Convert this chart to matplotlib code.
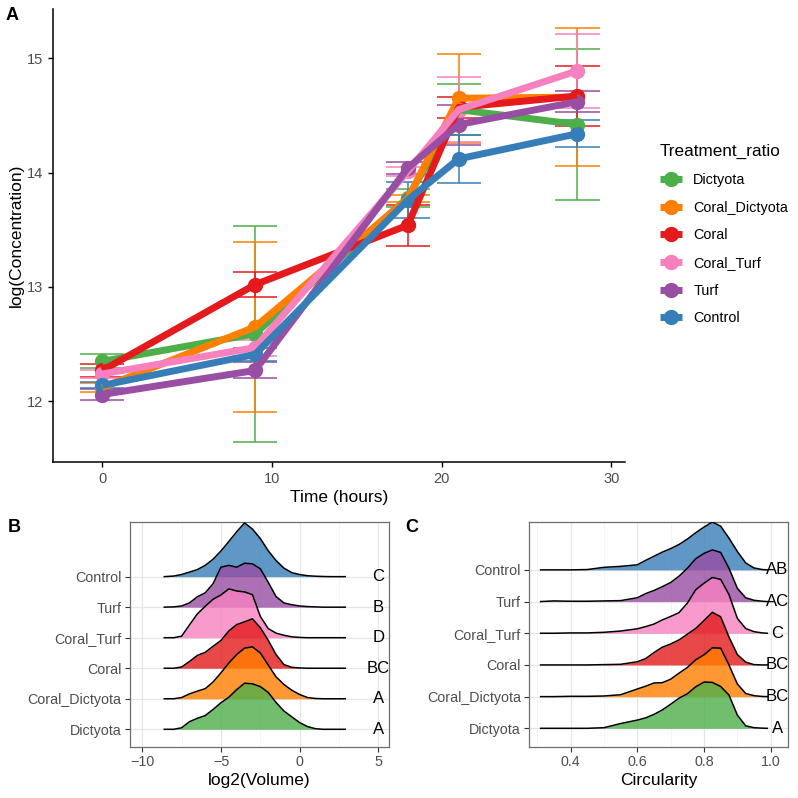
import matplotlib
matplotlib.use('Agg')

import numpy as np
import matplotlib.pyplot as plt
from matplotlib.lines import Line2D

plt.rcParams['font.family'] = ['Liberation Sans', 'DejaVu Sans']

# ---- panel A data: mean log concentration and standard error per time point
time_h = [0, 9, 18, 21, 28]
groups = ['Dictyota', 'Coral_Dictyota', 'Coral', 'Coral_Turf', 'Turf', 'Control']
colors = {'Dictyota': '#4DAF4A', 'Coral_Dictyota': '#FF7F00', 'Coral': '#E41A1C',
          'Coral_Turf': '#F781BF', 'Turf': '#984EA3', 'Control': '#377EB8'}

mean_dictyota = [12.35, 12.59, 13.78, 14.55, 14.42]
mean_coral_dictyota = [12.12, 12.65, 13.77, 14.65, 14.66]
mean_coral = [12.27, 13.02, 13.54, 14.57, 14.67]
mean_coral_turf = [12.24, 12.47, 14.01, 14.55, 14.89]
mean_turf = [12.06, 12.27, 14.04, 14.42, 14.62]
mean_control = [12.14, 12.41, 13.76, 14.12, 14.34]

se_dictyota = [0.06, 0.945, 0.08, 0.22, 0.66]
se_coral_dictyota = [0.04, 0.74, 0.03, 0.39, 0.60]
se_coral = [0.055, 0.11, 0.18, 0.095, 0.26]
se_coral_turf = [0.035, 0.07, 0.04, 0.285, 0.325]
se_turf = [0.045, 0.07, 0.05, 0.175, 0.09]
se_control = [0.025, 0.055, 0.16, 0.21, 0.12]

means = dict(zip(groups, [mean_dictyota, mean_coral_dictyota, mean_coral,
                          mean_coral_turf, mean_turf, mean_control]))
ses = dict(zip(groups, [se_dictyota, se_coral_dictyota, se_coral,
                        se_coral_turf, se_turf, se_control]))

# ---- panel B data: ridge heights (in row units) on a common log2(volume) grid
vol_x = [-8.6, -8, -7.5, -7, -6.5, -6, -5.5, -5, -4.5, -4, -3.5, -3, -2.5, -2,
         -1.5, -1, -0.5, 0, 0.5, 1, 1.5, 2, 2.9]
vol_control = [0, 0.02, 0.07, 0.15, 0.23, 0.37, 0.57, 0.84, 1.15, 1.47, 1.76, 1.56,
               1.25, 0.85, 0.53, 0.28, 0.13, 0.07, 0.03, 0.015, 0.005, 0, 0]
vol_turf = [0, 0.01, 0.04, 0.14, 0.34, 0.47, 0.77, 1.31, 1.37, 1.31, 1.44, 1.42,
            1.26, 0.82, 0.35, 0.14, 0.08, 0.04, 0.02, 0.01, 0, 0, 0]
vol_coral_turf = [0, 0, 0.05, 0.42, 0.78, 1.03, 1.26, 1.40, 1.60, 1.53, 1.50, 1.41,
                  0.70, 0.30, 0.15, 0.08, 0.03, 0.01, 0, 0, 0, 0, 0]
vol_coral = [0, 0, 0.04, 0.22, 0.42, 0.52, 0.72, 0.91, 1.22, 1.43, 1.52, 1.62,
             1.33, 0.92, 0.45, 0.12, 0.03, 0.01, 0, 0, 0, 0, 0]
vol_coral_dictyota = [0, 0, 0.04, 0.16, 0.25, 0.33, 0.55, 0.85, 1.17, 1.45, 1.66, 1.70,
                      1.50, 1.11, 0.72, 0.47, 0.28, 0.14, 0.04, 0.01, 0, 0, 0]
vol_dictyota = [0, 0, 0.05, 0.25, 0.36, 0.45, 0.65, 0.87, 1.05, 1.30, 1.51, 1.49,
                1.40, 1.21, 0.88, 0.60, 0.41, 0.22, 0.09, 0.02, 0, 0, 0]
vol_letters = ['A', 'A', 'BC', 'D', 'B', 'C']

# ---- panel C data: ridge heights on a common circularity grid
circ_x = [0.31, 0.35, 0.40, 0.45, 0.50, 0.55, 0.60, 0.625, 0.65, 0.675, 0.70, 0.725,
          0.75, 0.775, 0.80, 0.825, 0.85, 0.875, 0.90, 0.925, 0.95, 0.975, 0.99]
circ_control = [0, 0, 0, 0.01, 0.08, 0.11, 0.16, 0.30, 0.43, 0.56, 0.67, 0.80,
                0.97, 1.17, 1.35, 1.51, 1.38, 1.00, 0.58, 0.22, 0.06, 0.01, 0]
circ_turf = [0, 0.02, 0.01, 0.01, 0.02, 0.03, 0.12, 0.25, 0.35, 0.47, 0.60, 0.80,
             1.05, 1.35, 1.52, 1.63, 1.55, 1.05, 0.42, 0.12, 0.04, 0.01, 0]
circ_coral_turf = [0, 0, 0.01, 0.01, 0.03, 0.07, 0.14, 0.21, 0.29, 0.42, 0.53, 0.65,
                   0.95, 1.37, 1.58, 1.76, 1.70, 1.22, 0.47, 0.15, 0.05, 0.01, 0]
circ_coral = [0, 0, 0, 0, 0.01, 0.02, 0.10, 0.20, 0.39, 0.56, 0.66, 0.79,
              0.97, 1.15, 1.40, 1.66, 1.52, 0.88, 0.33, 0.09, 0.01, 0, 0]
circ_coral_dictyota = [0, 0, 0.01, 0.01, 0.02, 0.06, 0.24, 0.33, 0.43, 0.44, 0.55, 0.74,
                       0.92, 1.16, 1.32, 1.54, 1.53, 1.00, 0.40, 0.10, 0.03, 0.005, 0]
circ_dictyota = [0, 0, 0, 0, 0.02, 0.15, 0.26, 0.33, 0.44, 0.58, 0.76, 0.95,
                 1.09, 1.31, 1.46, 1.45, 1.32, 1.05, 0.42, 0.08, 0.02, 0.005, 0]
circ_letters = ['A', 'BC', 'BC', 'C', 'AC', 'AB']

GREY_TXT = '#4d4d4d'

fig = plt.figure(figsize=(7.98, 7.98), dpi=100)

# ================= panel A =================
axA = fig.add_axes([53/798, 1-462/798, 572/798, 453/798])
for g in groups:
    t = np.array(time_h)
    m = np.array(means[g])
    s = np.array(ses[g])
    axA.vlines(t, m - s, m + s, color=colors[g], lw=1.1, zorder=2)
    axA.hlines(m - s, t - 1.3, t + 1.3, color=colors[g], lw=1.1, zorder=2)
    axA.hlines(m + s, t - 1.3, t + 1.3, color=colors[g], lw=1.1, zorder=2)
for g in groups:
    axA.plot(time_h, means[g], 'o', color=colors[g], ms=10, zorder=3)
for g in groups:
    axA.plot(time_h, means[g], '-', color=colors[g], lw=5, zorder=4,
             solid_capstyle='butt')

axA.set_xlim(-2.9, 30.8)
axA.set_ylim(11.47, 15.43)
axA.set_xticks([0, 10, 20, 30])
axA.set_yticks([12, 13, 14, 15])
for sp in ['top', 'right']:
    axA.spines[sp].set_visible(False)
for sp in ['left', 'bottom']:
    axA.spines[sp].set_linewidth(1.1)
    axA.spines[sp].set_color('black')
axA.tick_params(colors='black', labelcolor=GREY_TXT, labelsize=10.5, length=3.5, width=1)
axA.set_xlabel('Time (hours)', fontsize=12.5, labelpad=3)
axA.set_ylabel('log(Concentration)', fontsize=12.5, labelpad=2)

handles = [Line2D([0], [0], color=colors[g], lw=5, marker='o', ms=10,
                  solid_capstyle='butt') for g in groups]
leg = fig.legend(handles, groups, title='Treatment_ratio', loc='upper left',
                 bbox_to_anchor=(647/798, 1-131/798), frameon=False, fontsize=10.4,
                 title_fontsize=12.3, handlelength=1.5, handletextpad=0.8,
                 labelspacing=0.95, alignment='left')

fig.text(12/798, 1-15/798, 'A', fontsize=13, fontweight='bold', ha='center', va='center')


# ================= ridge panels =================
def ridge_panel(ax, xs, heights, letters, letter_x, xlim, ylim, xticks, minor, xlabel):
    ax.set_xlim(*xlim)
    ax.set_ylim(*ylim)
    ax.set_xticks(xticks)
    ax.set_xticks(minor, minor=True)
    ax.set_yticks(range(1, 7))
    ax.set_yticklabels(groups)
    ax.set_axisbelow(True)
    ax.grid(which='major', color='#e6e6e6', lw=0.9)
    ax.grid(which='minor', axis='x', color='#f2f2f2', lw=0.5)
    ax.tick_params(which='minor', length=0)
    ax.tick_params(which='major', colors='#333333', labelcolor=GREY_TXT,
                   labelsize=10.3, length=3.5, width=0.8, pad=2.5)
    for sp in ax.spines.values():
        sp.set_color('#6e6e6e')
        sp.set_linewidth(0.9)
    # draw top rows first so lower ridges sit over them
    for row in range(6, 0, -1):
        g = groups[row - 1]
        h = np.array(heights[row - 1])
        ax.fill_between(xs, row, row + h, color=colors[g], alpha=0.8, lw=0, zorder=2)
        ax.plot(xs, row + h, color='black', lw=1.1, zorder=3)
    for row in range(1, 7):
        ax.text(letter_x, row, letters[row - 1], fontsize=12, ha='center',
                va='center', zorder=5)
    ax.set_xlabel(xlabel, fontsize=12.5, labelpad=3)


axB = fig.add_axes([130/798, 1-746.7/798, 259/798, 225/798])
ridge_panel(axB, vol_x,
            [vol_dictyota, vol_coral_dictyota, vol_coral, vol_coral_turf, vol_turf, vol_control],
            vol_letters, 5, (-10.78, 5.68), (0.43, 7.80), [-10, -5, 0, 5], [-7.5, -2.5, 2.5],
            'log2(Volume)')
fig.text(14/798, 1-527/798, 'B', fontsize=13, fontweight='bold', ha='center', va='center')

axC = fig.add_axes([529.3/798, 1-746.7/798, 258.7/798, 225/798])
ridge_panel(axC, circ_x,
            [circ_dictyota, circ_coral_dictyota, circ_coral, circ_coral_turf, circ_turf, circ_control],
            circ_letters, 1.02, (0.276, 1.052), (0.42, 7.52), [0.4, 0.6, 0.8, 1.0],
            [0.3, 0.5, 0.7, 0.9], 'Circularity')
axC.set_xticklabels(['0.4', '0.6', '0.8', '1.0'])
fig.text(412/798, 1-527/798, 'C', fontsize=13, fontweight='bold', ha='center', va='center')

fig.savefig('out.png', dpi=100)
